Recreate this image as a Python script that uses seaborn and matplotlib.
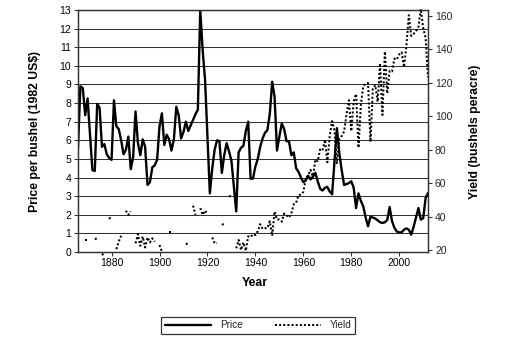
import numpy as np
import pandas as pd
import matplotlib
matplotlib.use("Agg")
import matplotlib.pyplot as plt
import seaborn as sns

nan = np.nan

years = list(range(1866, 2013))

# Real corn price per bushel (1982 US$)
price = [
    5.6, 8.9, 8.8, 7.35, 8.25, 6.3, 4.4, 4.35, 7.95, 7.75,          # 1866-1875
    5.65, 5.8, 5.25, 5.05, 4.95, 8.15, 6.75, 6.6, 6.0, 5.25,        # 1876-1885
    5.5, 6.2, 4.45, 5.1, 7.55, 5.85, 5.2, 6.05, 5.65, 3.6,          # 1886-1895
    3.75, 4.55, 4.65, 4.95, 6.75, 7.45, 5.75, 6.3, 6.05, 5.45,      # 1896-1905
    6.05, 7.8, 7.35, 6.1, 6.45, 7.0, 6.5, 6.8, 7.1, 7.4,            # 1906-1915
    7.65, 13.0, 10.85, 9.25, 6.2, 3.15, 4.5, 5.5, 6.0, 5.95,        # 1916-1925
    4.25, 5.2, 5.85, 5.4, 4.9, 3.55, 2.18, 5.35, 5.6, 5.7,          # 1926-1935
    6.5, 7.0, 3.93, 3.95, 4.6, 5.0, 5.65, 6.1, 6.4, 6.55,           # 1936-1945
    7.4, 9.15, 8.35, 5.45, 6.2, 6.9, 6.6, 5.95, 5.95, 5.2,          # 1946-1955
    5.35, 4.5, 4.3, 4.0, 3.75, 3.85, 4.1, 3.9, 4.05, 4.25,          # 1956-1965
    3.8, 3.4, 3.3, 3.45, 3.5, 3.25, 3.1, 4.9, 6.65, 5.3,            # 1966-1975
    4.4, 3.6, 3.65, 3.7, 3.8, 3.45, 2.36, 3.15, 2.75, 2.45,         # 1976-1985
    1.85, 1.38, 1.9, 1.85, 1.8, 1.7, 1.6, 1.56, 1.6, 1.72,          # 1986-1995
    2.42, 1.65, 1.3, 1.1, 1.05, 1.06, 1.2, 1.27, 1.2, 0.93,         # 1996-2005
    1.35, 1.85, 2.36, 1.74, 1.82, 2.9, 3.17,                        # 2006-2012
]

# Yield, bushels per acre (blank where no figure is recorded)
yield_bu = [
    nan, nan, nan, 25.8, 25.8, nan, nan, 26.6, 26.8, nan,           # 1866-1875
    17.8, 16.4, nan, 39.5, 37.5, nan, 20.5, 25.0, 28.5, nan,        # 1876-1885
    43.5, 41.0, 43.0, nan, 24.0, 29.5, 22.5, 28.0, 21.5, 27.5,      # 1886-1895
    24.5, 27.0, 25.0, nan, 23.0, 19.0, nan, nan, 30.5, 30.5,        # 1896-1905
    nan, nan, nan, nan, nan, 24.0, 23.0, nan, 46.5, 41.0,           # 1906-1915
    nan, 45.0, 41.0, 43.5, 41.5, nan, 27.5, 24.0, 24.0, nan,        # 1916-1925
    35.5, 35.0, nan, 52.5, 51.5, nan, 21.0, 26.0, 20.0, 24.5,       # 1926-1935
    19.5, 28.2, 27.7, 29.4, 28.9, 31.2, 35.4, 32.6, 33.0, 33.1,     # 1936-1945
    37.2, 28.6, 43.0, 38.2, 38.2, 36.9, 41.8, 40.7, 39.4, 42.0,     # 1946-1955
    47.4, 48.3, 52.8, 53.1, 54.7, 62.4, 64.7, 67.9, 62.9, 74.1,     # 1956-1965
    73.1, 80.1, 79.5, 85.9, 72.4, 88.1, 97.0, 91.3, 71.9, 86.4,     # 1966-1975
    88.0, 90.8, 101.0, 109.5, 91.0, 108.9, 113.2, 81.1, 106.7, 118.0,  # 1976-1985
    119.4, 119.8, 84.6, 116.3, 118.5, 108.6, 131.5, 100.7, 138.6, 113.5,  # 1986-1995
    127.1, 126.7, 134.4, 133.8, 136.9, 138.2, 129.3, 142.2, 160.3, 147.9,  # 1996-2005
    149.1, 150.7, 153.3, 164.0, 152.6, 146.8, 123.1,               # 2006-2012
]

price_ticks = list(range(0, 14))
yield_ticks = list(range(20, 161, 20))
year_ticks = list(range(1880, 2001, 20))

df = pd.DataFrame({"Year": years, "Price": price, "Yield": yield_bu})
# consecutive recorded years form one stretch of the dotted line
df["stretch"] = df["Yield"].isna().cumsum()
ydf = df.dropna(subset=["Yield"])

sns.set_theme(style="white")
plt.rcParams["font.family"] = ["Liberation Sans", "DejaVu Sans"]

W, H = 532, 339
fig = plt.figure(figsize=(W / 100, H / 100), dpi=100)
fig.patch.set_facecolor("white")
L, R, T, B = 78, 428, 10, 252
ax = fig.add_axes([L / W, 1 - B / H, (R - L) / W, (B - T) / H])
ax2 = ax.twinx()

ax.set_xlim(1866, 2012)
ax.set_ylim(0, 13)
ax2.set_ylim(18.8, 163.4)

for y in price_ticks[1:]:
    ax.axhline(y, color="#333333", lw=0.75, zorder=0)

sns.lineplot(data=df, x="Year", y="Price", ax=ax, color="black",
             lw=1.7, legend=False, zorder=3)
sns.lineplot(data=ydf, x="Year", y="Yield", units="stretch", estimator=None,
             ax=ax2, color="black", lw=1.45, linestyle=(0, (1, 1.05)),
             legend=False, clip_on=False)

ax.set_xticks(year_ticks)
ax.set_xticklabels([str(y) for y in year_ticks])
ax.set_yticks(price_ticks)
ax.set_yticklabels([str(v) for v in price_ticks])
ax2.set_yticks(yield_ticks)
ax2.set_yticklabels([str(v) for v in yield_ticks])

ax.set_xlabel("")
ax.set_ylabel("")
ax2.set_ylabel("")

for a in (ax, ax2):
    for s in a.spines.values():
        s.set_color("#333333")
        s.set_linewidth(0.9)
    a.grid(False)

ax.tick_params(axis="both", direction="out", length=3, width=0.8,
               color="#333333", labelsize=7.5, pad=2, labelcolor="black")
ax.tick_params(axis="x", pad=1.5)
ax.tick_params(axis="y", left=True)
ax.tick_params(axis="x", bottom=True)
ax2.tick_params(axis="y", direction="out", length=3, width=0.8,
                color="#333333", labelsize=7.5, pad=2, right=True)

lab = dict(fontsize=8.8, fontweight="bold", color="black", ha="center", va="center")
fig.text(35 / W, 1 - 131.5 / H, "Price per bushel (1982 US$)", rotation=90, **lab)
fig.text(475 / W, 1 - 131.5 / H, "Yield (bushels peracre)", rotation=90, **lab)
fig.text(255 / W, 1 - 283 / H, "Year", **lab)

h_price = ax.get_lines()[-1]
h_yield = ax2.get_lines()[-1]
leg = fig.legend([h_price, h_yield], ["Price", "Yield"], loc="center",
                 bbox_to_anchor=(258 / W, 1 - 325.5 / H), ncol=2, frameon=True,
                 fancybox=False, edgecolor="black", fontsize=7.2,
                 handlelength=4.6, handletextpad=0.9, columnspacing=3.2,
                 borderpad=0.35, borderaxespad=0)
leg.get_frame().set_linewidth(0.9)

fig.savefig("out.png", dpi=100, facecolor="white")
